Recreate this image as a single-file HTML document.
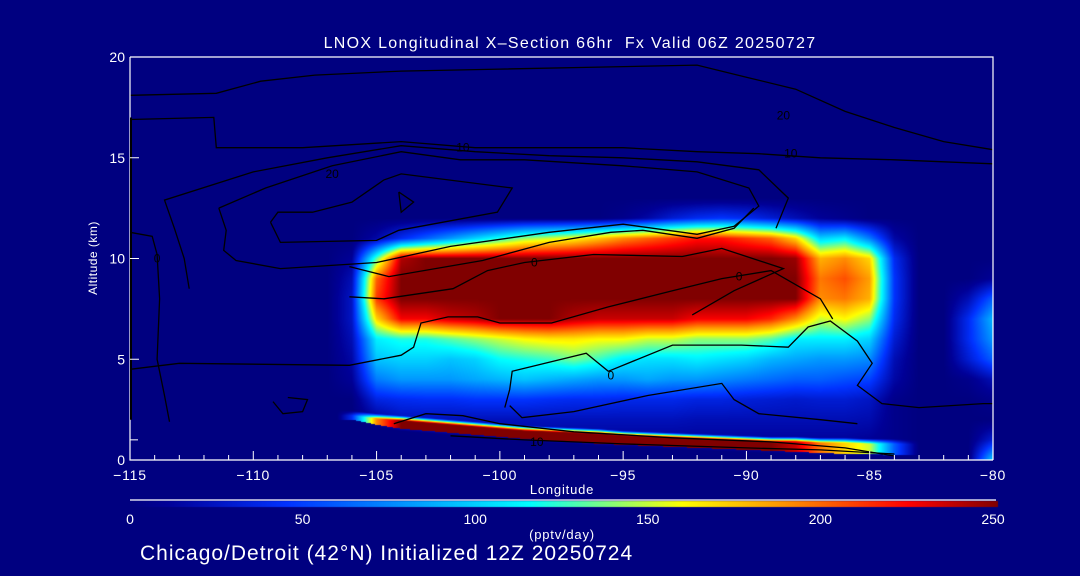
<!DOCTYPE html>
<html><head><meta charset="utf-8">
<style>
html,body{margin:0;padding:0;background:#000080;}
#wrap{position:relative;width:1080px;height:576px;overflow:hidden;background:#000080;font-family:"Liberation Sans",sans-serif;color:#fff;}
canvas,svg{position:absolute;left:0;top:0;}
.t{position:absolute;white-space:nowrap;color:#fff;}
</style></head>
<body>
<div id="wrap">
<canvas id="heat" width="1080" height="576"></canvas>
<svg id="ov" width="1080" height="576"></svg>
<div class="t" style="left:570px;top:35px;font-size:16px;letter-spacing:1.3px;transform:translateX(-50%);">LNOX Longitudinal X&#8211;Section 66hr&nbsp; Fx Valid 06Z 20250727</div>
<div class="t" style="left:93px;top:258px;font-size:12px;letter-spacing:0.5px;transform:translate(-50%,-50%) rotate(-90deg);">Altitude (km)</div>
<div class="t" style="left:562px;top:482px;font-size:13px;letter-spacing:0.8px;transform:translateX(-50%);">Longitude</div>
<div class="t" style="left:562px;top:527px;font-size:13px;letter-spacing:0.8px;transform:translateX(-50%);">(pptv/day)</div>
<div class="t" style="left:140px;top:542px;font-size:21px;letter-spacing:1px;">Chicago/Detroit (42°N) Initialized 12Z 20250724</div>
</div>
<script>
// ---- data ----
const lons = [-115,-114,-113,-112,-111,-110,-109,-108,-107,-106,-105,-104,-103,-102,-101,-100,-99,-98,-97,-96,-95,-94,-93,-92,-91,-90,-89,-88,-87,-86,-85,-84,-83,-82,-81,-80];
const alts = [0,1,2,3,4,5,6,7,8,9,10,11,12,13];
const row0 = [0,0,0,0,0,0,0,0,0,0,0,10,10,10,10,10,10,10,10,10,10,10,10,10,10,10,10,10,10,10,10,5,0,0,0,100];
const row1 = [0,0,0,0,0,0,0,0,0,0,0,12,12,12,12,12,12,12,12,12,12,12,12,12,12,12,12,12,12,12,10,5,0,0,0,30];
const row2 = [0,0,0,0,0,0,0,0,0,0,10,22,22,22,22,22,22,22,22,22,22,22,22,20,20,20,20,20,20,20,18,5,0,0,0,0];
const row3 = [0,0,0,0,0,0,0,0,0,0,35,40,42,42,45,45,45,42,40,40,38,38,38,35,35,32,30,28,30,30,25,5,0,0,0,5];
const row4 = [0,0,0,0,0,0,0,0,0,10,70,80,80,80,85,90,95,90,85,80,80,85,80,80,75,70,65,60,60,55,50,15,0,0,5,20];
const row5 = [0,0,0,0,0,0,0,0,0,15,95,100,100,95,100,115,120,125,135,125,110,105,105,110,105,100,90,85,80,80,75,20,0,0,30,60];
const row6 = [0,0,0,0,0,0,0,0,0,20,110,120,120,130,140,150,160,165,165,160,160,150,150,140,140,140,130,110,110,110,100,30,0,0,40,80];
const row7 = [0,0,0,0,0,0,0,0,0,25,170,225,225,235,240,250,250,250,240,235,235,235,235,225,225,225,215,190,150,160,140,40,0,0,40,90];
const row8 = [0,0,0,0,0,0,0,0,0,25,210,250,250,250,250,250,250,250,250,250,250,250,250,250,250,250,250,250,190,195,180,45,0,0,20,60];
const row9 = [0,0,0,0,0,0,0,0,0,20,200,250,250,250,250,250,250,250,250,250,250,250,250,250,250,250,250,250,195,205,185,45,0,0,0,10];
const row10 = [0,0,0,0,0,0,0,0,0,10,130,240,250,250,250,250,250,250,250,250,250,250,250,250,250,250,250,245,180,190,170,40,0,0,0,0];
const row11 = [0,0,0,0,0,0,0,0,0,0,15,40,60,80,100,120,140,150,160,175,190,200,210,220,220,210,200,170,100,110,70,15,0,0,0,0];
const row12 = [0,0,0,0,0,0,0,0,0,0,0,0,0,0,0,0,0,0,0,0,5,15,30,40,45,40,30,20,10,5,0,0,0,0,0,0];
const row13 = [0,0,0,0,0,0,0,0,0,0,0,0,0,0,0,0,0,0,0,0,0,0,0,0,0,0,0,0,0,0,0,0,0,0,0,0];
// surface band
const bandLons = [-106,-105,-104,-103,-102,-101,-100,-99,-98,-97,-96,-95,-94,-93,-92,-91,-90,-89,-88,-87,-86,-85,-84,-83];
const bandTop = [2.2,2.05,1.95,1.85,1.75,1.65,1.55,1.45,1.4,1.35,1.3,1.2,1.15,1.1,1.05,1.0,0.95,0.9,0.9,0.85,0.85,0.8,0.8,0.75];
const bandBot = [2.0,1.75,1.55,1.45,1.35,1.25,1.15,1.05,0.95,0.9,0.8,0.75,0.7,0.65,0.6,0.55,0.5,0.45,0.4,0.35,0.3,0.3,0.25,0.25];
const bandPeak = [40,190,250,250,250,250,250,250,250,250,250,250,250,250,250,250,250,250,235,195,170,150,60,0];
// colorbar
const cbTicks = [0,50,100,150,200,250];
const xTicks = [-115,-110,-105,-100,-95,-90,-85,-80];
const yTicks = [0,5,10,15,20];
// contours [lon,alt]
const contourTop1 = [[-115,18.1],[-111.5,18.2],[-109.7,18.8],[-107.5,19.1],[-104,19.3],[-100,19.4],[-96,19.5],[-92,19.6],[-90,19.0],[-88,18.4],[-86,17.3],[-84,16.5],[-82,15.8],[-80,15.4]];
const contourTop2 = [[-115,16.9],[-111.6,17.0],[-111.5,15.5],[-108,15.5],[-104,15.8],[-101,15.5],[-98,15.5],[-95,15.5],[-92,15.3],[-89.5,15.2],[-87,15.0],[-84,14.9],[-80,14.7]];
const contourInner = [[-109.3,11.8],[-108.9,10.8],[-105.0,10.9],[-104.1,11.4],[-100.1,12.3],[-99.5,13.5],[-104.0,14.2],[-104.7,13.9],[-106.0,12.8],[-107.6,12.3],[-109.0,12.3],[-109.3,11.8]];
const contourMid = [[-111.4,12.5],[-111.1,11.4],[-111.2,10.4],[-110.7,9.9],[-108.9,9.5],[-105,9.8],[-102,10.6],[-98,11.3],[-95,11.7],[-92,11.2],[-90.5,11.6],[-89.5,12.6],[-89.9,13.5],[-92,14.3],[-95,14.6],[-99,14.9],[-101.6,14.9],[-104,15.3],[-106.8,14.6],[-109.5,13.5],[-111.4,12.5]];
const contourOuter = [[-112.6,8.5],[-112.8,10.0],[-113.2,11.5],[-113.6,12.9],[-110,14.3],[-107,15.0],[-104,15.6],[-101,15.3],[-98,15.1],[-95,15.0],[-92,14.8],[-89.5,14.4],[-88.3,13.0],[-88.8,11.5]];
const contourTri = [[-104.1,13.3],[-103.5,12.8],[-104.0,12.3],[-104.1,13.3]];
const contourRedTop = [[-106.1,9.6],[-104.5,9.1],[-100.7,9.9],[-98.0,10.8],[-95.5,11.3],[-94.2,11.4],[-92,11.0],[-90.5,11.5],[-89.7,12.5]];
const contourRedMid = [[-106.1,8.1],[-104.7,8.0],[-101.9,8.5],[-100.5,9.4],[-99.0,9.8],[-96.2,10.2],[-92.6,10.1],[-91,10.5],[-88.5,9.5],[-90.5,8.4],[-92.2,7.2]];
const contourRedLow = [[-115,4.5],[-113,4.8],[-106.1,4.7],[-104.0,5.2],[-103.5,5.6],[-103.2,6.8],[-102.1,7.1],[-100.9,7.1],[-100,6.8],[-97.9,6.8],[-95.6,7.6],[-93,8.4],[-91,9.0],[-89,9.4],[-87,8.0],[-86.5,7.0]];
const contourLow = [[-99.8,2.6],[-99.6,3.5],[-99.5,4.4],[-96.5,5.3],[-95.6,4.4],[-93,5.7],[-90.2,5.7],[-88.3,5.6],[-87.5,6.6],[-86.6,6.9],[-85.5,5.9],[-84.9,4.8],[-85.5,3.7],[-84.5,2.8],[-83,2.6],[-80.4,2.8],[-80,2.8]];
const contourLow2 = [[-99.6,2.7],[-99.1,2.1],[-97,2.4],[-94,3.2],[-91,3.8],[-90.5,3.0],[-89.5,2.3],[-87,2.0],[-85.5,1.8]];
const contourLeft = [[-115,11.3],[-114.1,11.1],[-113.9,10.2],[-113.8,8],[-113.9,5],[-113.6,3.2],[-113.4,1.9]];
const contourBand = [[-104.3,1.8],[-103,2.3],[-101.5,2.2],[-100,1.8],[-97,1.4],[-93,1.1],[-89,0.9],[-86,0.6],[-84,0.2]];
const contourBand2 = [[-102,1.2],[-99,1.0],[-95,0.8],[-90,0.6],[-87,0.5],[-84,0.3]];
const contourSfc = [[-109.2,2.9],[-108.8,2.3],[-108.0,2.4],[-107.8,3.0],[-108.6,3.1]];

// ---- scales ----
const X0=130,X1=993,Y0=460,Y1=57;
const xs = lon => X0 + (lon+115)/35*(X1-X0);
const ys = a => Y0 - a/20*(Y0-Y1);
const xinv = px => -115 + (px-X0)/(X1-X0)*35;
const yinv = py => (Y0-py)/(Y0-Y1)*20;
const grid = [row0,row1,row2,row3,row4,row5,row6,row7,row8,row9,row10,row11,row12,row13];

const stops=[[0,0,0,128],[10,0,0,150],[45,0,50,255],[115,0,255,255],[137,128,255,128],[159,255,255,0],[190,255,140,0],[224,255,0,0],[250,128,0,0]];
function cmap(v){
  v=Math.max(0,Math.min(250,v));
  for(let i=1;i<stops.length;i++){
    if(v<=stops[i][0]){const a=stops[i-1],b=stops[i],t=(v-a[0])/(b[0]-a[0]);
      return [a[1]+(b[1]-a[1])*t,a[2]+(b[2]-a[2])*t,a[3]+(b[3]-a[3])*t];}
  }
  return [128,0,0];
}
function interp1(xa,ya,x){
  if(x<=xa[0])return ya[0]; if(x>=xa[xa.length-1])return ya[ya.length-1];
  for(let i=1;i<xa.length;i++) if(x<=xa[i]){const t=(x-xa[i-1])/(xa[i]-xa[i-1]);return ya[i-1]+(ya[i]-ya[i-1])*t;}
}
function field(lon,alt){
  let fi=(lon-lons[0])/(lons[1]-lons[0]); let fj=(alt-alts[0])/(alts[1]-alts[0]);
  fi=Math.max(0,Math.min(lons.length-1.0001,fi));
  if(fj>alts.length-1)return 0;
  fj=Math.max(0,fj);
  const i=Math.floor(fi),j=Math.min(alts.length-2,Math.floor(fj)),ti=fi-i,tj=fj-j;
  const v00=grid[j][i],v10=grid[j][i+1],v01=grid[j+1][i],v11=grid[j+1][i+1];
  let v=(v00*(1-ti)+v10*ti)*(1-tj)+(v01*(1-ti)+v11*ti)*tj;
  const bl0=bandLons[0]-0.6,bl1=bandLons[bandLons.length-1];
  if(lon>=bl0 && lon<=bl1){
    const top=interp1(bandLons,bandTop,lon),bot=interp1(bandLons,bandBot,lon);
    let pk=interp1(bandLons,bandPeak,lon);
    if(lon<bandLons[0]) pk*= (lon-bl0)/0.6;
    if(alt<bot) v=v*Math.max(0,1-(bot-alt)/0.12);
    else if(alt<=top){ v=Math.max(v,pk); }
    else if(alt<top+0.25){ const t=(alt-top)/0.25; v=Math.max(v,pk*(1-t)+v*t); }
  }
  return v;
}
const cv=document.getElementById('heat'),ctx=cv.getContext('2d');
ctx.fillStyle='#000080';ctx.fillRect(0,0,1080,576);
const img=ctx.createImageData(X1-X0,Y0-Y1);
for(let py=0;py<Y0-Y1;py++){for(let px=0;px<X1-X0;px++){
  const c=cmap(field(xinv(X0+px+0.5),yinv(Y1+py+0.5)));const k=(py*(X1-X0)+px)*4;
  img.data[k]=c[0];img.data[k+1]=c[1];img.data[k+2]=c[2];img.data[k+3]=255;}}
ctx.putImageData(img,X0,Y1);
for(let px=X0;px<998;px++){const c=cmap((px-X0)/(998-X0)*250);ctx.fillStyle=`rgb(${c[0]|0},${c[1]|0},${c[2]|0})`;ctx.fillRect(px,501,1,6);}

// ---- overlay svg ----
const NS='http://www.w3.org/2000/svg',svg=document.getElementById('ov');
function mk(tag,attrs){const e=document.createElementNS(NS,tag);for(const k in attrs)e.setAttribute(k,attrs[k]);svg.appendChild(e);return e;}
const contours=[['contour-top-1',contourTop1],['contour-top-2',contourTop2],['contour-inner-loop',contourInner],['contour-mid-loop',contourMid],['contour-outer',contourOuter],['contour-triangle',contourTri],['contour-red-top',contourRedTop],['contour-red-mid',contourRedMid],['contour-red-low',contourRedLow],['contour-low',contourLow],['contour-low-2',contourLow2],['contour-left',contourLeft],['contour-band',contourBand],['contour-band-2',contourBand2],['contour-surface',contourSfc]];
contours.forEach(([n,pts])=>{
  const e=mk('polyline',{points:pts.map(p=>xs(p[0]).toFixed(1)+','+ys(p[1]).toFixed(1)).join(' '),fill:'none',stroke:'#000','stroke-width':1.3});
  
  
});
[['10',-101.5,15.5],['20',-106.8,14.2],['0',-113.9,10],['0',-98.6,9.8],['0',-90.3,9.1],['0',-95.5,4.2],['10',-98.5,0.9],['20',-88.5,17.1],['10',-88.2,15.2]].forEach(l=>{
  const t=mk('text',{x:xs(l[1]),y:ys(l[2])+4,'font-size':12,'font-family':'Liberation Sans, sans-serif',fill:'#000','text-anchor':'middle'});t.textContent=l[0];
  
  
});
const fr=mk('path',{d:`M${X0},${Y1}H${X1}V${Y0}M${X0},${Y1}V${Y0}H${X1}`,stroke:'#fff','stroke-width':1.2,fill:'none'});


const lax=mk('line',{x1:X0+1,y1:ys(2),x2:X0+1,y2:ys(17),stroke:'#000','stroke-width':2});


for(let lon=-115;lon<=-80;lon++){const maj=(lon%5===0);
  const e=mk('line',{x1:xs(lon),x2:xs(lon),y1:Y0,y2:Y0-(maj?9:5),stroke:'#fff','stroke-width':1});
  
  }
xTicks.forEach(v=>{const t=mk('text',{x:xs(v),y:480,'font-size':14,'letter-spacing':'0.8','font-family':'Liberation Sans, sans-serif',fill:'#fff','text-anchor':'middle'});t.textContent=(v<0?'\u2212':'')+Math.abs(v);
  
  });
yTicks.forEach(v=>{const t=mk('text',{x:125,y:ys(v)+5,'font-size':14,'font-family':'Liberation Sans, sans-serif',fill:'#fff','text-anchor':'end'});t.textContent=v;
  
  
  const e=mk('line',{x1:X0,x2:X0+9,y1:ys(v),y2:ys(v),stroke:'#fff','stroke-width':1});
  
  });
const ymin=mk('line',{x1:X0,x2:X0+8,y1:ys(1),y2:ys(1),stroke:'#fff','stroke-width':1});


const cbl=mk('line',{x1:X0,x2:996,y1:500,y2:500,stroke:'#fff','stroke-width':1.2});


cbTicks.forEach(v=>{const t=mk('text',{x:X0+v/250*(X1-X0),y:524,'font-size':14,'font-family':'Liberation Sans, sans-serif',fill:'#fff','text-anchor':'middle'});t.textContent=v;
  
  });
</script>
</body></html>
